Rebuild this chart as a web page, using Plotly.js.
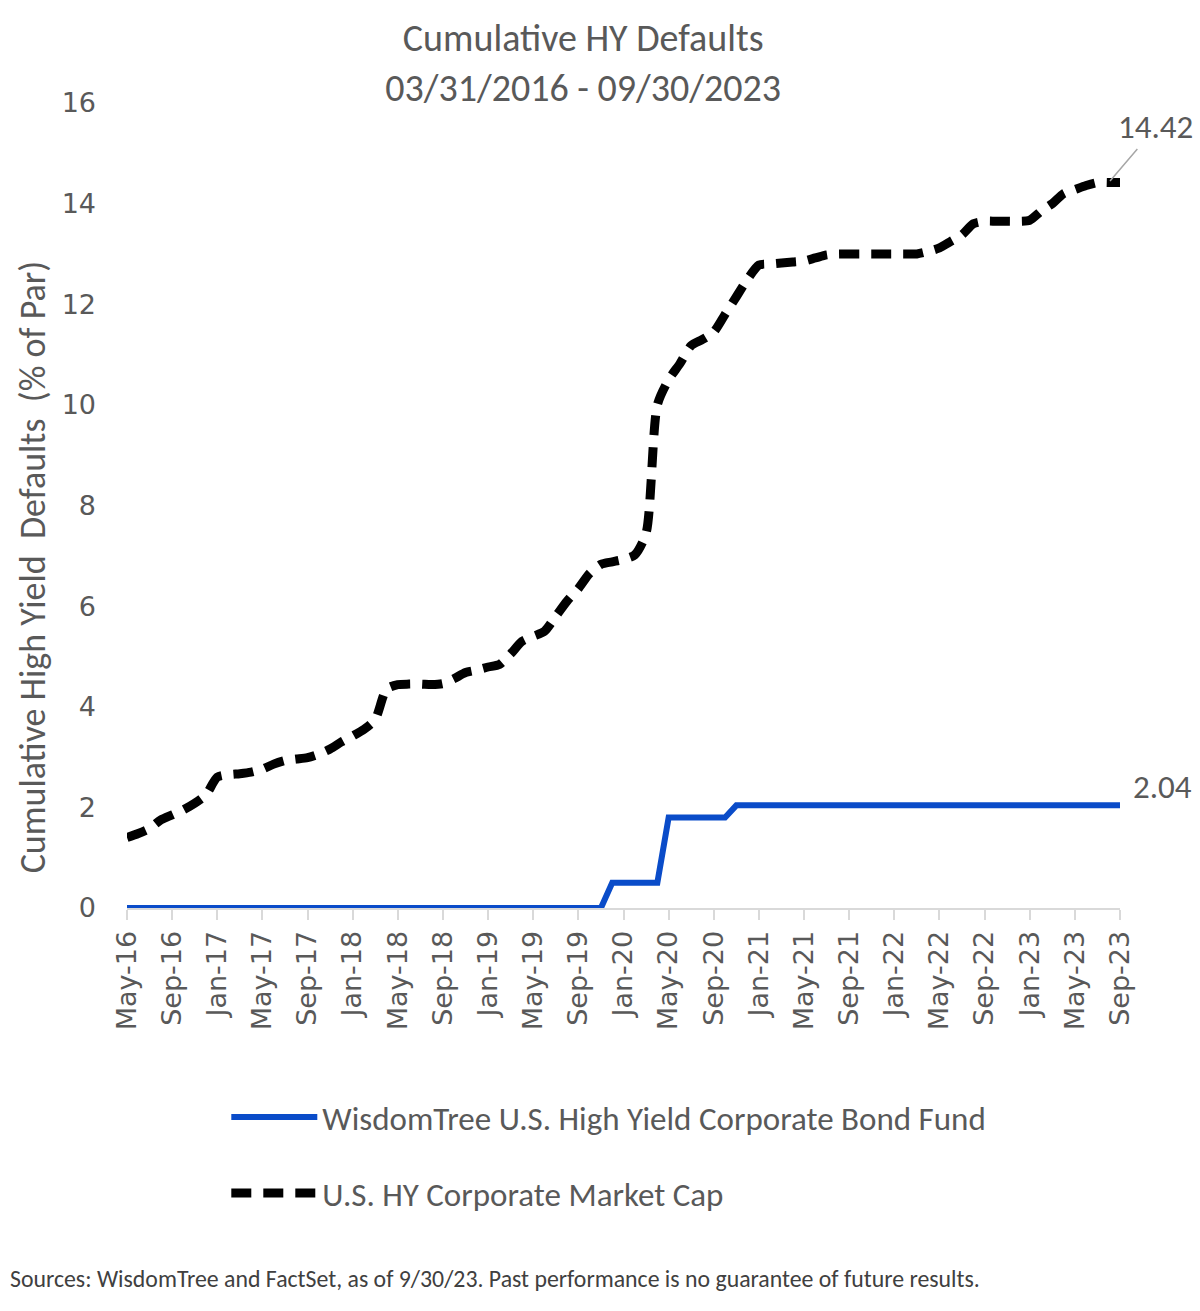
<!DOCTYPE html>
<html>
<head>
<meta charset="utf-8">
<script src="https://cdn.plot.ly/plotly-3.0.1.min.js"></script>
<style>
  html, body { margin: 0; padding: 0; background: #fff; }
  #chart { width: 1200px; height: 1311px; }
</style>
</head>
<body>
<div id="chart"></div>
<script>
// Monthly categories, May-16 .. Sep-23
const months = [
  "May-16", "Jun-16", "Jul-16", "Aug-16", "Sep-16", "Oct-16", "Nov-16", "Dec-16",
  "Jan-17", "Feb-17", "Mar-17", "Apr-17", "May-17", "Jun-17", "Jul-17", "Aug-17",
  "Sep-17", "Oct-17", "Nov-17", "Dec-17", "Jan-18", "Feb-18", "Mar-18", "Apr-18",
  "May-18", "Jun-18", "Jul-18", "Aug-18", "Sep-18", "Oct-18", "Nov-18", "Dec-18",
  "Jan-19", "Feb-19", "Mar-19", "Apr-19", "May-19", "Jun-19", "Jul-19", "Aug-19",
  "Sep-19", "Oct-19", "Nov-19", "Dec-19", "Jan-20", "Feb-20", "Mar-20", "Apr-20",
  "May-20", "Jun-20", "Jul-20", "Aug-20", "Sep-20", "Oct-20", "Nov-20", "Dec-20",
  "Jan-21", "Feb-21", "Mar-21", "Apr-21", "May-21", "Jun-21", "Jul-21", "Aug-21",
  "Sep-21", "Oct-21", "Nov-21", "Dec-21", "Jan-22", "Feb-22", "Mar-22", "Apr-22",
  "May-22", "Jun-22", "Jul-22", "Aug-22", "Sep-22", "Oct-22", "Nov-22", "Dec-22",
  "Jan-23", "Feb-23", "Mar-23", "Apr-23", "May-23", "Jun-23", "Jul-23", "Aug-23",
  "Sep-23"
];

// Labelled ticks (every 4 months)
const tickLabels = [
  "May-16", "Sep-16", "Jan-17", "May-17", "Sep-17", "Jan-18", "May-18", "Sep-18",
  "Jan-19", "May-19", "Sep-19", "Jan-20", "May-20", "Sep-20", "Jan-21", "May-21",
  "Sep-21", "Jan-22", "May-22", "Sep-22", "Jan-23", "May-23", "Sep-23"
];

// WisdomTree U.S. High Yield Corporate Bond Fund (% of par)
const fundDefaults = [
  0, 0, 0, 0, 0, 0, 0, 0, 0, 0, 0, 0, 0, 0, 0, 0,
  0, 0, 0, 0, 0, 0, 0, 0, 0, 0, 0, 0, 0, 0, 0, 0,
  0, 0, 0, 0, 0, 0, 0, 0, 0, 0, 0, 0.5, 0.5, 0.5, 0.5, 0.5,
  1.8, 1.8, 1.8, 1.8, 1.8, 1.8, 2.04, 2.04, 2.04, 2.04, 2.04, 2.04, 2.04, 2.04, 2.04, 2.04,
  2.04, 2.04, 2.04, 2.04, 2.04, 2.04, 2.04, 2.04, 2.04, 2.04, 2.04, 2.04, 2.04, 2.04, 2.04, 2.04,
  2.04, 2.04, 2.04, 2.04, 2.04, 2.04, 2.04, 2.04, 2.04
];

// U.S. HY Corporate Market Cap (% of par)
const marketDefaults = [
  1.40, 1.48, 1.58, 1.75, 1.85, 1.95, 2.08, 2.25, 2.60, 2.65, 2.67, 2.70,
  2.76, 2.86, 2.93, 2.96, 2.99, 3.06, 3.16, 3.30, 3.42, 3.55, 3.75, 4.35,
  4.44, 4.45, 4.45, 4.44, 4.46, 4.56, 4.68, 4.73, 4.79, 4.84, 5.05, 5.30,
  5.40, 5.50, 5.80, 6.10, 6.35, 6.65, 6.83, 6.88, 6.93, 7.02, 7.45, 10.00,
  10.50, 10.82, 11.18, 11.30, 11.45, 11.80, 12.15, 12.50, 12.78, 12.80, 12.82, 12.84,
  12.86, 12.92, 12.98, 13.00, 13.00, 13.00, 13.00, 13.00, 13.00, 13.00, 13.00, 13.05,
  13.12, 13.25, 13.38, 13.60, 13.65, 13.65, 13.65, 13.65, 13.67, 13.85, 14.00, 14.20,
  14.28, 14.36, 14.42, 14.42, 14.42
];

const textGray = "#595959";
const bodyFont = "Carlito, Lato, sans-serif";
const tickFont = "DejaVu Sans, Verdana, sans-serif";

const traces = [
  {
    x: months,
    y: fundDefaults,
    type: "scatter",
    mode: "lines",
    name: "WisdomTree U.S. High Yield Corporate Bond Fund",
    legendgroup: "fund",
    line: { color: "#0a4cc9", width: 6 },
    hoverinfo: "x+y",
  },
  {
    x: months,
    y: marketDefaults,
    type: "scatter",
    mode: "lines",
    name: "U.S. HY Corporate Market Cap",
    legendgroup: "market",
    line: { color: "#000000", width: 9, dash: "20px,12px", shape: "spline", smoothing: 0.7 },
    hoverinfo: "x+y",
  },
];

const lastIdx = months.length - 1;

const layout = {
  width: 1200,
  height: 1311,
  title: {
    text: "Cumulative HY Defaults<br>03/31/2016 - 09/30/2023",
    font: { family: bodyFont, size: 38, color: textGray },
    x: 0.486,
    xanchor: "center",
    y: 0.961,
    yanchor: "top",
  },
  xaxis: {
    type: "category",
    range: [0, lastIdx],
    tickmode: "array",
    tickvals: tickLabels,
    ticktext: tickLabels,
    tickangle: -90,
    tickfont: { family: tickFont, size: 27, color: textGray },
    ticks: "outside",
    ticklen: 10,
    tickwidth: 2,
    tickcolor: "#d9d9d9",
    showline: true,
    linecolor: "#d9d9d9",
    linewidth: 2,
    showgrid: false,
    zeroline: false,
  },
  yaxis: {
    range: [0, 16],
    dtick: 2,
    tickfont: { family: tickFont, size: 27, color: textGray },
    ticklabelstandoff: 30,
    showline: false,
    showgrid: false,
    zeroline: false,
    ticks: "",
  },
  showlegend: true,
  legend: {
    orientation: "v",
    x: 0.1,
    xanchor: "left",
    y: -0.225,
    yanchor: "top",
    font: { family: bodyFont, size: 33, color: textGray },
    tracegroupgap: 30,
    itemwidth: 86,
    bgcolor: "rgba(0,0,0,0)",
  },
  annotations: [
    {
      // y-axis title placed by hand so it sits where the original does
      text: "Cumulative High Yield\u00a0 Defaults\u00a0 (% of Par)",
      xref: "paper",
      yref: "paper",
      x: -0.095,
      y: 0.424,
      xanchor: "center",
      yanchor: "middle",
      textangle: -90,
      showarrow: false,
      font: { family: bodyFont, size: 36, color: textGray },
    },
    {
      text: "14.42",
      x: lastIdx - 1,
      y: marketDefaults[lastIdx],
      ax: 47,
      ay: -55,
      showarrow: true,
      arrowhead: 0,
      arrowwidth: 1.5,
      arrowcolor: "#a6a6a6",
      standoff: 2,
      font: { family: bodyFont, size: 33, color: textGray },
    },
    {
      text: "2.04",
      x: lastIdx,
      y: fundDefaults[lastIdx],
      xanchor: "center",
      yanchor: "middle",
      xshift: 42,
      yshift: 18,
      showarrow: false,
      font: { family: bodyFont, size: 33, color: textGray },
    },
    {
      text: "Sources: WisdomTree and FactSet, as of 9/30/23. Past performance is no guarantee of future results.",
      xref: "paper",
      yref: "paper",
      x: -0.12,
      y: -0.46,
      xanchor: "left",
      yanchor: "middle",
      showarrow: false,
      font: { family: bodyFont, size: 23.8, color: "#404040" },
    },
  ],
  margin: { l: 127, r: 80, t: 103, b: 403 },
  plot_bgcolor: "#ffffff",
  paper_bgcolor: "#ffffff",
};

const config = {
  responsive: false,
  displayModeBar: false,
  displaylogo: false,
};

Plotly.newPlot("chart", traces, layout, config);
</script>
</body>
</html>
